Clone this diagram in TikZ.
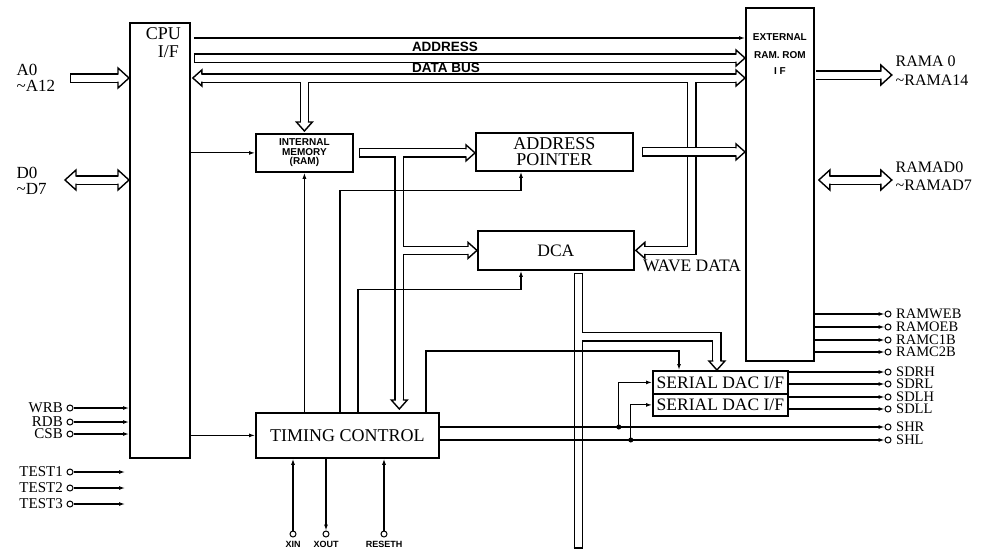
\documentclass[tikz,border=0pt]{standalone}
\usepackage{fontspec}
\setmainfont{Liberation Serif}
\newfontfamily\sansfnt{Liberation Sans}
\usetikzlibrary{arrows.meta, calc}

% hollow bus arrowhead: #1 length, #2 half width
\newcommand\headshape[2]{%
  \fill[white] (0,0) -- (-#1,#2) -- (-#1,-#2) -- cycle;
  \draw[line width=1.4pt, line join=miter] (-#1,3.5) -- (-#1,#2) -- (0,0) -- (-#1,-#2) -- (-#1,-3.5);}
% a bus net: black pass, then white pass
\newcommand\busnet[1]{\draw[busout] #1; \draw[busin] #1;}

\tikzset{
    blk/.style={draw, line width=1.8pt, inner sep=0pt, anchor=north west, align=center},
    sig/.style={line width=1.1pt, -{Latex[length=6pt, width=4pt]}},
    busout/.style={line width=9.8pt},
    busin/.style={line width=7pt, white},
    pad/.style={circle, draw, line width=1pt, fill=white, minimum size=6pt, inner sep=0pt},
    dot/.style={circle, fill, minimum size=5pt, inner sep=0pt},
    bigtxt/.style={font=\fontsize{18}{16}\selectfont},
    midtxt/.style={font=\fontsize{17.5}{17}\selectfont},
    padtxt/.style={font=\fontsize{14.5}{14}\selectfont, inner sep=0.5pt},
    lefttxt/.style={font=\fontsize{15}{14}\selectfont, inner sep=0.5pt},
    smalltxt/.style={font=\sansfnt\bfseries\fontsize{10}{9.5}\selectfont},
    pintxt/.style={font=\sansfnt\bfseries\fontsize{9}{9}\selectfont, inner sep=1pt},
    bustxt/.style={font=\sansfnt\bfseries\fontsize{13.5}{13}\selectfont, inner sep=0pt},
    pics/bushead/.style={code={\headshape{9}{8}}},
    pics/bigbushead/.style={code={\headshape{11}{10}}},
    pics/buscap/.style={code={\draw[line width=1.4pt] (0.7,-4.9) -- (0.7,4.9);}},
}

\begin{document}
\begin{tikzpicture}[x=1pt, y=-1pt]
    \useasboundingbox (0,0) rectangle (993,554);

    % blocks
    \node[blk, minimum width=60, minimum height=435] (cpu) at (129,22) {};
    \node[blk, minimum width=68, minimum height=353] (ext) at (745,7) {};
    \node[blk, smalltxt, minimum width=97, minimum height=38] (mem) at (255,133) {INTERNAL\\MEMORY\\(RAM)};
    \node[blk, bigtxt, minimum width=157, minimum height=38] (ap) at (475,132) {ADDRESS\\POINTER};
    \node[blk, midtxt, minimum width=156, minimum height=39] (dca) at (477,230) {DCA};
    \node[blk, bigtxt, minimum width=183, minimum height=45] (tc) at (255,412) {TIMING CONTROL};
    \node[blk, midtxt, minimum width=135, minimum height=23] (dac1) at (652,370) {SERIAL DAC I/F};
    \node[blk, midtxt, minimum width=135, minimum height=22] (dac2) at (652,393) {SERIAL DAC I/F};

    \node[bigtxt, anchor=base east, inner sep=0pt] (cpul) at (181,39) {CPU};
    \node[bigtxt, anchor=base east, inner sep=0pt] (ifl) at (179,57) {I/F};
    \node[smalltxt, anchor=base, inner sep=0pt] (ext1) at ($(ext.north)+(0,33)$) {EXTERNAL};
    \node[smalltxt, anchor=base, inner sep=0pt] (ext2) at ($(ext.north)+(0,51)$) {RAM. ROM};
    \node[smalltxt, anchor=base, inner sep=0pt] (ext3) at ($(ext.north)+(0,67)$) {I F};

    % levels
    \coordinate (yctl) at (0,38);
    \coordinate (yadr) at (0,58);
    \coordinate (ydat) at (0,78);
    \coordinate (yra)  at (0,75);
    \coordinate (yrd)  at (0,180);
    \coordinate (xa)   at (70,0);

    % address bus
    \busnet{($(cpu.east |- yadr)+(3,0)$) -- ($(ext.west |- yadr)+(-9,0)$)}
    \pic at ($(cpu.east |- yadr)+(3,0)$) {buscap};
    \pic at (ext.west |- yadr) {bushead};

    % data bus and its branches
    \coordinate (wx) at ($(dca.east)+(57,0)$);
    \busnet{($(cpu.east |- ydat)+(11,0)$) -- ($(ext.west |- ydat)+(-9,0)$)
            (mem.north |- ydat) -- ($(mem.north)+(0,-11)$)
            (wx |- ydat) -- (wx) -- ($(dca.east)+(10,0)$)}
    \pic[rotate=180] at ($(cpu.east |- ydat)+(2,0)$) {bushead};
    \pic at (ext.west |- ydat) {bushead};
    \pic[rotate=-90] at ($(mem.north)+(0,-2)$) {bushead};
    \pic[rotate=180] at ($(dca.east)+(1,0)$) {bushead};

    % memory output
    \coordinate (mx) at ($(mem.east)+(45.5,0)$);
    \busnet{($(mem.east)+(5,0)$) -- ($(ap.west |- mem.east)+(-9,0)$)
            (mx) -- ($(mx |- tc.north)+(0,-12)$)
            (mx |- dca.west) -- ($(dca.west)+(-9,0)$)}
    \pic at ($(mem.east)+(5,0)$) {buscap};
    \pic at (ap.west |- mem.east) {bushead};
    \pic[rotate=-90] at ($(mx |- tc.north)+(0,-3)$) {bushead};
    \pic at (dca.west) {bushead};

    % address pointer output
    \busnet{($(ap.east)+(8,0)$) -- ($(ext.west |- ap.east)+(-9,0)$)}
    \pic at ($(ap.east)+(8,0)$) {buscap};
    \pic at (ext.west |- ap.east) {bushead};

    % DCA output
    \coordinate (ox) at ($(dca.south)+(22.5,2)$);
    \coordinate (oy) at ($(ox)+(0,64)$);
    \coordinate (dx) at ($(dac1.north)+(-3.5,0)$);
    \busnet{(ox) -- ($(ox)+(0,276)$) (oy) -| ($(dx)+(0,-9)$)}
    \pic[rotate=-90] at (ox) {buscap};
    \pic[rotate=90] at ($(ox)+(0,276)$) {buscap};
    \pic[rotate=-90] at (dx) {bushead};

    % outer buses
    \busnet{($(ext.east |- yra)+(1,0)$) -- ($(ext.east |- yra)+(66,0)$)}
    \pic at ($(ext.east |- yra)+(77,0)$) {bigbushead};
    \busnet{($(ext.east |- yrd)+(15,0)$) -- ($(ext.east |- yrd)+(66,0)$)}
    \pic[rotate=180] at ($(ext.east |- yrd)+(4,0)$) {bigbushead};
    \pic at ($(ext.east |- yrd)+(77,0)$) {bigbushead};
    \busnet{(xa |- ydat) -- ($(cpu.west |- ydat)+(-11,0)$)}
    \pic at (xa |- ydat) {buscap};
    \pic at (cpu.west |- ydat) {bigbushead};
    \busnet{($(cpu.west |- yrd)+(-53,0)$) -- ($(cpu.west |- yrd)+(-11,0)$)}
    \pic[rotate=180] at ($(cpu.west |- yrd)+(-64,0)$) {bigbushead};
    \pic at (cpu.west |- yrd) {bigbushead};

    % bus labels
    \node[bustxt, anchor=base] (ladr) at (445,51) {ADDRESS};
    \node[bustxt, anchor=base] (ldat) at (446,72) {DATA BUS};
    \node[midtxt, anchor=base, inner sep=0pt] (lwave) at (692,271) {WAVE DATA};
    \node[lefttxt, align=left, anchor=north west, font=\fontsize{17}{16}\selectfont] (la) at (16,63) {A0\\\textasciitilde A12};
    \node[lefttxt, align=left, anchor=north west, font=\fontsize{17}{16}\selectfont] (ld) at (16,166) {D0\\\textasciitilde D7};
    \node[padtxt, align=left, anchor=north west, font=\fontsize{16}{19}\selectfont] (lra) at (895,55) {RAMA 0\\\textasciitilde RAMA14};
    \node[padtxt, align=left, anchor=north west, font=\fontsize{16}{18}\selectfont] (lrd) at (895,161) {RAMAD0\\\textasciitilde RAMAD7};

    % control lines
    \draw[sig] ($(cpu.east |- yctl)+(3,0)$) -- (ext.west |- yctl);
    \draw[sig] (cpu.east |- mem.west) -- (mem.west);
    \draw[sig] (cpu.east |- tc.west) -- (tc.west);
    \draw[sig] (tc.north -| mem.south) -- (mem.south);
    \draw[sig] ($(tc.north west)+(85,0)$) |- ($(ap.south west)+(46,19)$) -- ($(ap.south west)+(46,0)$);
    \draw[sig] ($(tc.north west)+(103,0)$) |- ($(dca.south west)+(44,19)$) -- ($(dca.south west)+(44,0)$);
    \draw[sig] ($(tc.north west)+(171,0)$) |- ($(dac1.north west)+(27,-19)$) -- ($(dac1.north west)+(27,0)$);

    % right pins
    \foreach \nm/\yy in {RAMWEB/314, RAMOEB/327, RAMC1B/340, RAMC2B/352}{
        \node[pad, label={[padtxt, label distance=4pt]right:\nm}] (p\nm) at (888,\yy) {};
        \draw[sig] (ext.east |- p\nm) -- (p\nm);
    }
    \foreach \nm/\yy in {SDRH/372, SDRL/384}{
        \node[pad, label={[padtxt, label distance=4pt]right:\nm}] (p\nm) at (888,\yy) {};
        \draw[sig] (dac1.east |- p\nm) -- (p\nm);
    }
    \foreach \nm/\yy in {SDLH/397, SDLL/409}{
        \node[pad, label={[padtxt, label distance=4pt]right:\nm}] (p\nm) at (888,\yy) {};
        \draw[sig] (dac2.east |- p\nm) -- (p\nm);
    }
    \foreach \nm/\yy in {SHR/427, SHL/440}{
        \node[pad, label={[padtxt, label distance=4pt]right:\nm}] (p\nm) at (888,\yy) {};
        \draw[sig] (tc.east |- p\nm) -- (p\nm);
    }
    \node[dot] (dr) at ($(tc.east |- pSHR)+(179,0)$) {};
    \node[dot] (dl) at ($(tc.east |- pSHL)+(191,0)$) {};
    \draw[sig] (dr.center) |- (dac1.west);
    \draw[sig] (dl.center) |- (dac2.west);

    % left pins
    \foreach \nm/\yy in {WRB/408, RDB/422, CSB/434}{
        \node[pad, label={[lefttxt, label distance=3pt]left:\nm}] (p\nm) at (70,\yy) {};
        \draw[sig] (p\nm) -- (cpu.west |- p\nm);
    }
    \foreach \nm/\yy in {TEST1/472, TEST2/488, TEST3/504}{
        \node[pad, label={[lefttxt, label distance=3pt]left:\nm}] (p\nm) at (70,\yy) {};
        \draw[sig] (p\nm) -- ($(cpu.west |- p\nm)+(-4,0)$);
    }

    % bottom pins
    \node[pad, label={[pintxt, label distance=3pt]below:XIN}] (pXIN) at (293,534) {};
    \node[pad, label={[pintxt, label distance=3pt]below:XOUT}] (pXOUT) at (326,534) {};
    \node[pad, label={[pintxt, label distance=3pt]below:RESETH}] (pRESETH) at (384,534) {};
    \draw[sig] (pXIN) -- (pXIN |- tc.south);
    \draw[sig] (pXOUT |- tc.south) -- (pXOUT);
    \draw[sig] (pRESETH) -- (pRESETH |- tc.south);
\end{tikzpicture}
\end{document}
